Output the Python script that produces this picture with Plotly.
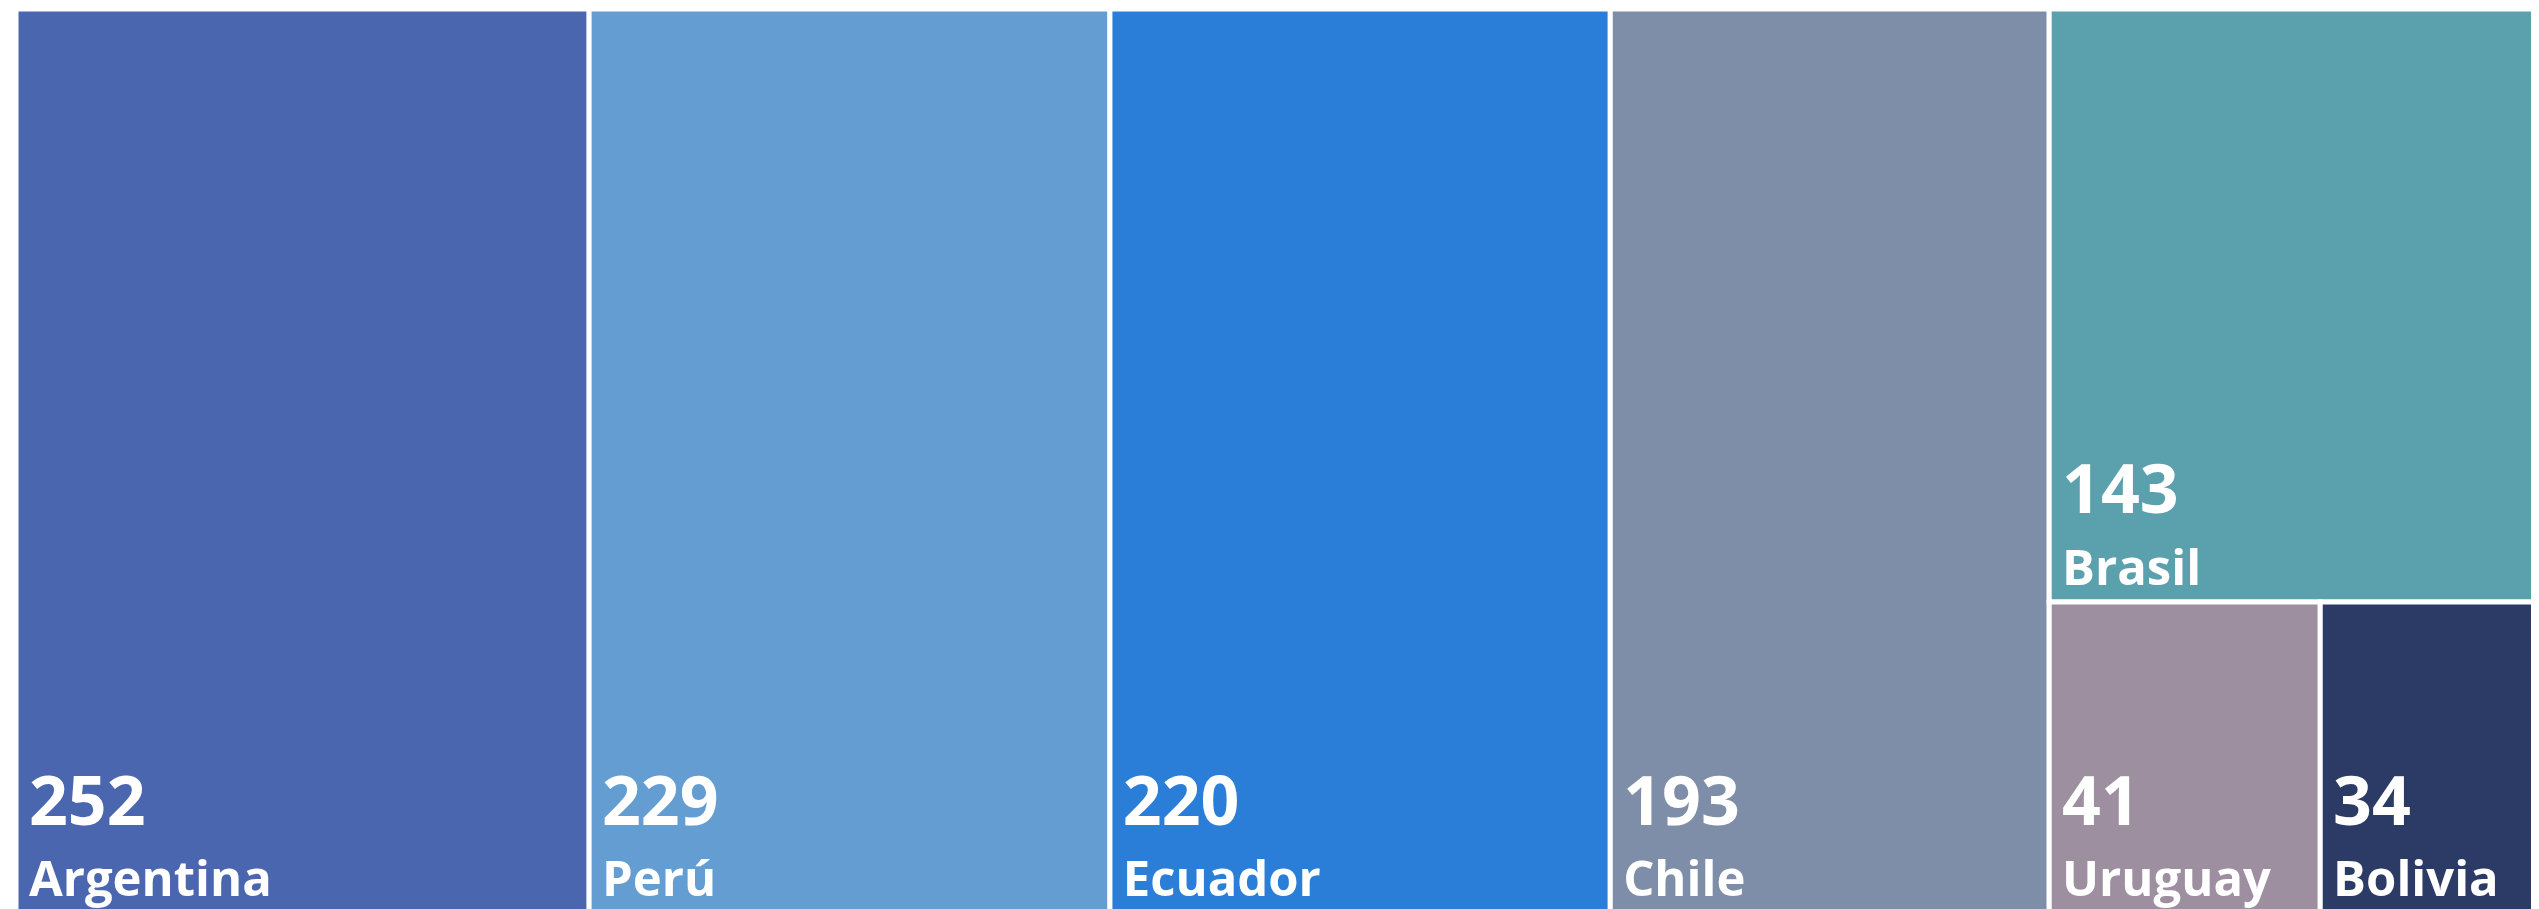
import plotly.graph_objects as go

labels = ["Argentina", "Perú", "Ecuador", "Chile", "Brasil", "Uruguay", "Bolivia"]
values = [252, 229, 220, 193, 143, 41, 34]
colors = ["#4A66AE", "#639DD1", "#2A7ED8", "#7F8EA8", "#5BA1AD", "#9D8FA0", "#2B3B66"]
parents = [""] * len(labels)

pad_span = "<span style='font-size:38px'>&nbsp;</span>"

fig = go.Figure(go.Treemap(
    labels=labels,
    parents=parents,
    values=values,
    sort=False,
    marker=dict(colors=colors, line=dict(color="white", width=5),
                pad=dict(t=0, l=0, r=0, b=0)),
    tiling=dict(packing="binary", pad=0),
    pathbar=dict(visible=False),
    texttemplate=(pad_span + "<span style='font-size:68px'>%{value}</span><br>"
                  + pad_span + "<span style='font-size:49px'>%{label}</span>"),
    textposition="bottom left",
    textfont=dict(family="Open Sans", size=55, color="white", weight="bold"),
    hoverinfo="label+value",
))
fig.update_layout(
    width=2537, height=905,
    margin=dict(l=8, r=0, t=1, b=0),
    paper_bgcolor="white",
    showlegend=False,
)
fig.write_html("out.html")
